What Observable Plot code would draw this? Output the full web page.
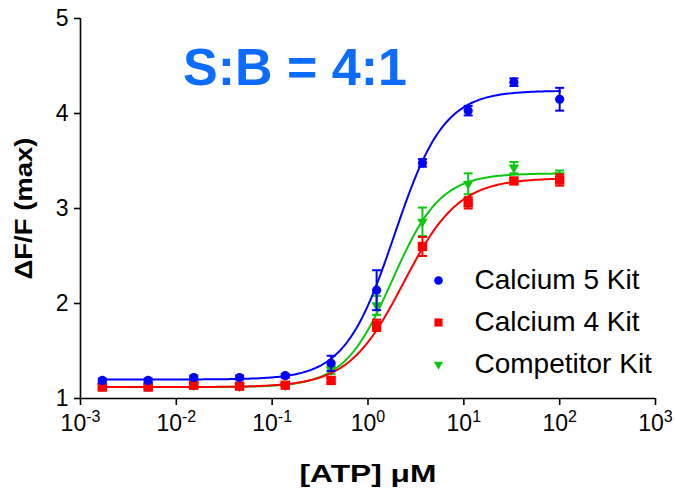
<!DOCTYPE html>
<html><head><meta charset="utf-8">
<script src="https://cdn.jsdelivr.net/npm/d3@7"></script>
<script src="https://cdn.jsdelivr.net/npm/@observablehq/plot@0.6"></script>
<style>
body{margin:0;background:#fff}
#chart svg{font-family:"Liberation Sans",Arial,sans-serif}
</style>
</head><body><div id="chart"></div>
<script>
// ATP concentrations (µM)
const conc = [0.00169, 0.00508, 0.0152, 0.0457, 0.137, 0.412, 1.23, 3.70, 11.1, 33.3, 100];

// Series values (ΔF/F max) and SEM
const calcium5 = [1.19, 1.19, 1.22, 1.22, 1.24, 1.37, 2.14, 3.48, 4.03, 4.33, 4.15];
const calcium5Err = [0.02, 0.02, 0.02, 0.02, 0.02, 0.08, 0.21, 0.04, 0.05, 0.04, 0.12];
const calcium4 = [1.12, 1.12, 1.14, 1.13, 1.14, 1.19, 1.77, 2.60, 3.06, 3.29, 3.30];
const calcium4Err = [0.02, 0.02, 0.03, 0.02, 0.02, 0.03, 0.06, 0.10, 0.06, 0.03, 0.06];
const competitor = [1.13, 1.13, 1.14, 1.13, 1.14, 1.30, 1.98, 2.86, 3.26, 3.43, 3.35];
const competitorErr = [0.01, 0.01, 0.01, 0.01, 0.01, 0.04, 0.10, 0.15, 0.11, 0.06, 0.05];

// 4-parameter logistic fit parameters: [bottom, top, logEC50, hill]
const calcium5Fit = [1.20, 4.24, 0.275, 1.68];
const calcium4Fit = [1.12, 3.32, 0.372, 1.51];
const competitorFit = [1.12, 3.37, 0.253, 1.73];

const seriesNames = ["Calcium 5 Kit", "Calcium 4 Kit", "Competitor Kit"];
const xTicks = [1e-3, 1e-2, 1e-1, 1e0, 1e1, 1e2, 1e3];
const yTicks = [1, 2, 3, 4, 5];
const titleText = "S:B = 4:1";
const xLabel = "[ATP] \u03BCM";
const yLabel = "\u0394F/F (max)";

const series = [
  {name: seriesNames[2], v: competitor, e: competitorErr, fit: competitorFit, color: "#0cc80c", symbol: "triangle", rotate: 180, r: 3.9, lr: 3.4},
  {name: seriesNames[1], v: calcium4, e: calcium4Err, fit: calcium4Fit, color: "#ff0000", symbol: "square", rotate: 0, r: 5.3, lr: 4.6},
  {name: seriesNames[0], v: calcium5, e: calcium5Err, fit: calcium5Fit, color: "#0000ff", symbol: "circle", rotate: 0, r: 4.6, lr: 4.3}
];

const capSymbol = {draw(ctx) { ctx.moveTo(-4.5, 0); ctx.lineTo(4.5, 0); }};

const logistic = (p, x) => p[0] + (p[1] - p[0]) / (1 + Math.pow(10, (p[2] - Math.log10(x)) * p[3]));

const marks = [];
for (const s of series) {
  const rows = conc.map((c, i) => ({x: c, y: s.v[i], lo: s.v[i] - s.e[i], hi: s.v[i] + s.e[i]}));
  const l0 = Math.log10(conc[0]), l1 = Math.log10(conc[conc.length - 1]);
  const curve = d3.range(0, 241).map(k => {
    const x = Math.pow(10, l0 + (l1 - l0) * k / 240);
    return {x, y: logistic(s.fit, x)};
  });
  marks.push(Plot.line(curve, {x: "x", y: "y", stroke: s.color, strokeWidth: 2}));
  marks.push(Plot.ruleX(rows, {x: "x", y1: "lo", y2: "hi", stroke: s.color, strokeWidth: 2}));
  marks.push(Plot.dot(rows, {x: "x", y: "hi", symbol: capSymbol, stroke: s.color, strokeWidth: 2, fill: "none"}));
  marks.push(Plot.dot(rows, {x: "x", y: "lo", symbol: capSymbol, stroke: s.color, strokeWidth: 2, fill: "none"}));
  marks.push(Plot.dot(rows, {x: "x", y: "y", symbol: s.symbol, rotate: s.rotate, r: s.r, fill: s.color, stroke: "none"}));
}

// legend (Calcium 5 first)
const legendOrder = [series[2], series[1], series[0]];
legendOrder.forEach((s, i) => {
  marks.push(Plot.dot([s], {frameAnchor: "top-left", dx: 358, dy: 262 + 42 * i, symbol: s.symbol, rotate: s.rotate, r: s.lr, fill: s.color, stroke: "none"}));
  marks.push(Plot.text([s], {frameAnchor: "top-left", dx: 394, dy: 262 + 42 * i, text: d => d.name, textAnchor: "start", lineAnchor: "middle", fontSize: 28, fill: "black"}));
});

marks.push(Plot.ruleY([yTicks[0]], {stroke: "black", strokeWidth: 1.6}));
marks.push(Plot.ruleX([xTicks[0]], {stroke: "black", strokeWidth: 1.6}));
marks.push(Plot.axisX(xTicks, {tickFormat: d => "10^" + Math.round(Math.log10(d)), tickSize: 7, tickPadding: 9, fontSize: 23, label: null, stroke: "black", strokeWidth: 1.6}));
marks.push(Plot.axisY(yTicks, {tickFormat: d => String(d), tickSize: 6, tickPadding: 6, fontSize: 23, label: null, stroke: "black", strokeWidth: 1.6}));
marks.push(Plot.text([titleText], {text: d => d, frameAnchor: "top", dx: -73, dy: 50, fontSize: 52, fontWeight: "bold", fill: "#0b6cff", lineAnchor: "middle"}));
marks.push(Plot.text([xLabel], {text: d => d, frameAnchor: "bottom", dy: 76, fontSize: 24, fontWeight: "bold", textAnchor: "middle", lineAnchor: "middle", fill: "black"}));
marks.push(Plot.text([yLabel], {text: d => d, frameAnchor: "left", dx: -56, rotate: -90, fontSize: 24, fontWeight: "bold", textAnchor: "middle", lineAnchor: "middle", fill: "black"}));

const chart = Plot.plot({
  width: 675,
  height: 496,
  marginLeft: 80,
  marginRight: 20,
  marginTop: 18,
  marginBottom: 98,
  style: {background: "white", fontFamily: "'Liberation Sans', Arial, sans-serif", color: "black", overflow: "visible"},
  x: {type: "log", domain: [1e-3, 1e3]},
  y: {domain: [1, 5]},
  marks
});

// superscript exponent tick labels
d3.select(chart).selectAll('g[aria-label="x-axis tick label"] text').each(function() {
  const t = d3.select(this);
  const [base, exp] = t.text().split("^");
  t.text(null).attr("text-anchor", "middle");
  t.append("tspan").text(base);
  t.append("tspan").text(exp).attr("font-size", 16).attr("dy", "-0.55em");
});
// labels in the reference are drawn wider
d3.select(chart).selectAll('g[aria-label="text"] text').each(function() {
  const t = d3.select(this);
  if (t.text() === xLabel) t.attr("textLength", 137).attr("lengthAdjust", "spacingAndGlyphs");
  if (t.text() === yLabel) t.attr("textLength", 142).attr("lengthAdjust", "spacingAndGlyphs");
});

document.getElementById("chart").append(chart);
</script>
</body></html>
